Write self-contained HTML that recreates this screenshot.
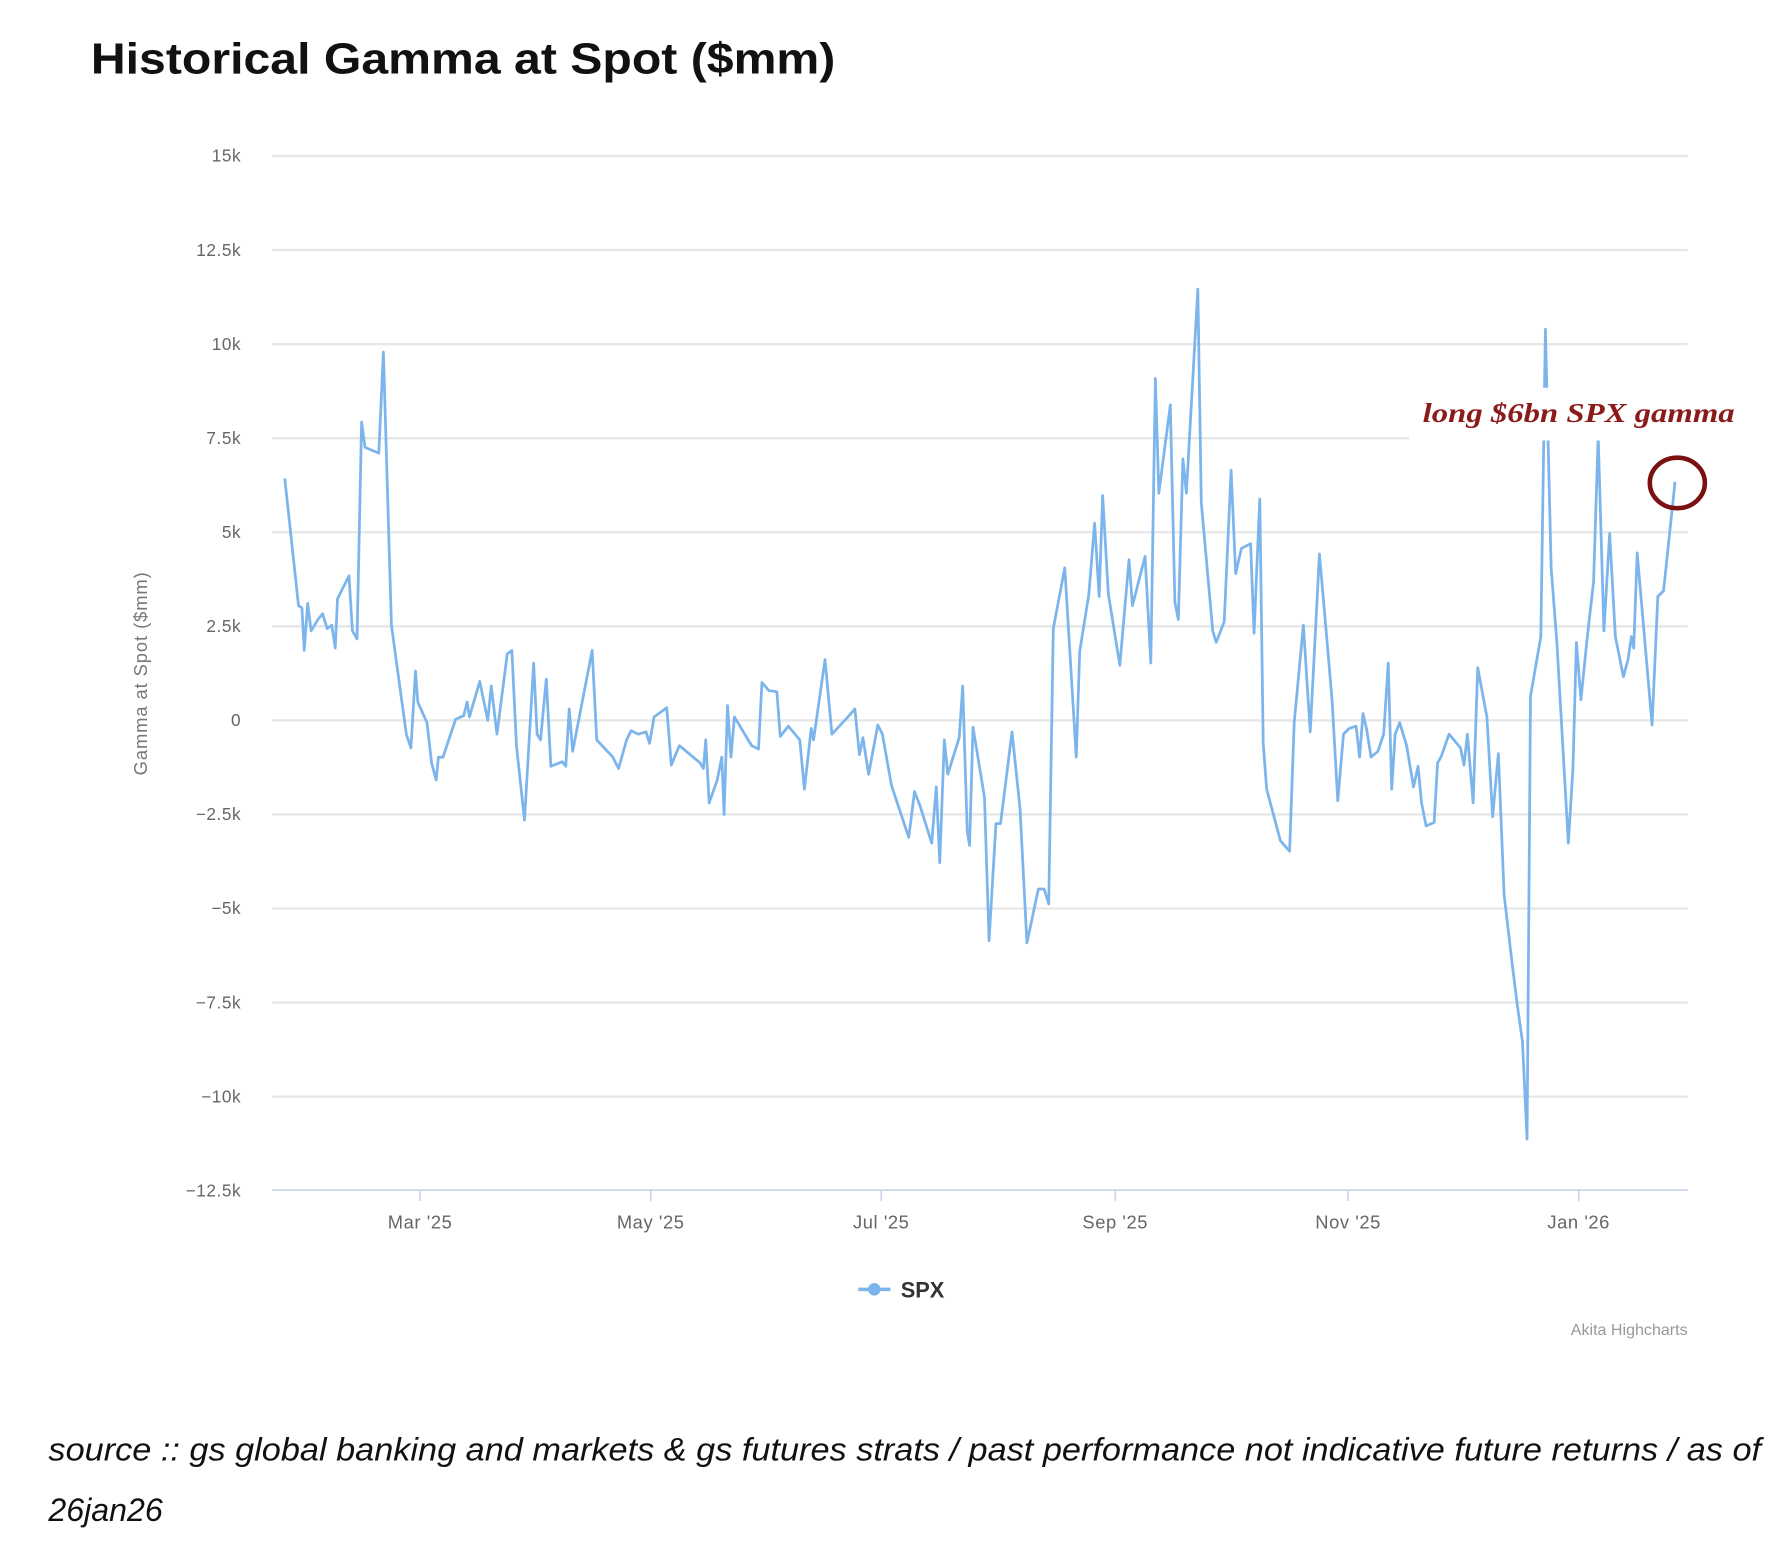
<!DOCTYPE html>
<html><head><meta charset="utf-8"><style>html,body{margin:0;padding:0;background:#fff}svg{display:block}</style></head>
<body>
<svg width="1790" height="1544" viewBox="0 0 1560 1346" xmlns="http://www.w3.org/2000/svg" font-family="Liberation Sans, sans-serif">
<rect width="1560" height="1346" fill="#fff"/>
<text x="79" y="64" font-size="38" font-weight="bold" fill="#111" textLength="649" lengthAdjust="spacingAndGlyphs">Historical Gamma at Spot ($mm)</text>
<g stroke="#e6e6e6" stroke-width="2">
<line x1="237" x2="1471" y1="136" y2="136"/><line x1="237" x2="1471" y1="218" y2="218"/><line x1="237" x2="1471" y1="300" y2="300"/><line x1="237" x2="1471" y1="382" y2="382"/><line x1="237" x2="1471" y1="464" y2="464"/><line x1="237" x2="1471" y1="546" y2="546"/><line x1="237" x2="1471" y1="628" y2="628"/><line x1="237" x2="1471" y1="710" y2="710"/><line x1="237" x2="1471" y1="792" y2="792"/><line x1="237" x2="1471" y1="874" y2="874"/><line x1="237" x2="1471" y1="956" y2="956"/>
</g>
<line x1="237" x2="1471" y1="1037.5" y2="1037.5" stroke="#ccd6eb" stroke-width="1.5"/>
<g stroke="#ccd6eb" stroke-width="1.5"><line x1="366" x2="366" y1="1037" y2="1047"/><line x1="567" x2="567" y1="1037" y2="1047"/><line x1="768" x2="768" y1="1037" y2="1047"/><line x1="972" x2="972" y1="1037" y2="1047"/><line x1="1175" x2="1175" y1="1037" y2="1047"/><line x1="1376" x2="1376" y1="1037" y2="1047"/></g>
<g font-size="15" fill="#666" text-anchor="end" letter-spacing="0.5">
<text x="210" y="141">15k</text><text x="210" y="223">12.5k</text><text x="210" y="305">10k</text><text x="210" y="387">7.5k</text><text x="210" y="469">5k</text><text x="210" y="551">2.5k</text><text x="210" y="633">0</text><text x="210" y="715">−2.5k</text><text x="210" y="797">−5k</text><text x="210" y="879">−7.5k</text><text x="210" y="961">−10k</text><text x="210" y="1043">−12.5k</text>
</g>
<g font-size="16" fill="#666" text-anchor="middle" letter-spacing="0.5">
<text x="366" y="1071">Mar '25</text><text x="567" y="1071">May '25</text><text x="768" y="1071">Jul '25</text><text x="972" y="1071">Sep '25</text><text x="1175" y="1071">Nov '25</text><text x="1376" y="1071">Jan '26</text>
</g>
<text transform="translate(128,587) rotate(-90)" font-size="16" fill="#777" text-anchor="middle" letter-spacing="0.8">Gamma at Spot ($mm)</text>
<polyline fill="none" stroke="#7cb5ec" stroke-width="2.4" stroke-linejoin="round" points="248,417 257,500 260,528 263,530 265,567 268,526 271,550 277,540 281,535 285,548 289,545 292,565 294,522 304,502 307,550 311,557 315,368 318,390 330,395 334,307 341,545 354,640 358,652 362,585 364,612 372,630 376,665 380,680 382,660 386,660 397,627 404,624 407,612 409,625 418,594 425,628 428,598 433,640 442,570 446,567 450,650 457,715 465,578 468,640 471,645 476,592 480,668 490,664 493,668 496,618 499,655 516,567 520,645 534,660 539,670 546,645 550,637 556,640 563,638 566,648 570,625 581,617 585,667 592,650 610,665 613,670 615,645 618,700 625,680 629,660 631,710 634,615 637,660 640,625 655,650 661,653 664,595 670,602 677,603 680,642 687,633 697,645 701,688 707,635 709,645 719,575 725,640 739,625 745,618 749,658 752,643 757,675 765,632 769,640 777,685 792,730 797,690 802,703 812,735 816,686 819,752 823,645 826,675 836,643 839,598 843,725 845,737 848,634 858,695 862,820 868,718 872,718 882,638 889,705 895,822 905,775 910,775 914,788 918,548 928,495 938,660 941,568 949,518 954,456 958,520 961,432 966,518 976,580 984,488 987,528 998,485 1003,578 1007,330 1010,430 1020,353 1024,525 1027,540 1031,400 1034,430 1044,252 1047,438 1057,550 1060,560 1067,542 1073,410 1077,500 1082,478 1090,474 1093,552 1098,435 1101,648 1104,688 1116,733 1124,742 1128,630 1136,545 1142,638 1150,483 1155,540 1161,610 1166,698 1171,640 1176,635 1182,633 1185,660 1188,622 1191,635 1195,660 1201,655 1206,640 1210,578 1213,688 1216,640 1220,630 1226,650 1232,686 1236,668 1239,700 1243,720 1250,717 1253,665 1256,660 1263,640 1273,652 1276,667 1279,640 1284,700 1288,582 1296,625 1301,712 1306,657 1311,780 1318,840 1323,880 1327,908 1331,993 1334,607 1343,555 1347,287 1352,495 1357,560 1367,735 1371,670 1374,560 1378,610 1383,560 1389,507 1393,380 1398,550 1403,465 1408,555 1415,590 1419,575 1422,555 1424,565 1427,482 1440,632 1445,520 1450,515 1460,420"/>
<rect x="1228" y="338" width="292" height="46" fill="#fff"/>
<text x="1240" y="368" font-family="Liberation Serif, serif" font-size="24" font-weight="bold" font-style="italic" fill="#8b1a1a" textLength="272" lengthAdjust="spacingAndGlyphs">long $6bn SPX gamma</text>
<ellipse cx="1462" cy="421" rx="24" ry="22" fill="none" stroke="#7a1010" stroke-width="4"/>
<line x1="748" x2="776" y1="1124" y2="1124" stroke="#7cb5ec" stroke-width="3"/>
<circle cx="762" cy="1124" r="5.5" fill="#7cb5ec"/>
<text x="785" y="1131" font-size="19" font-weight="bold" fill="#333">SPX</text>
<text x="1471" y="1164" font-size="14" fill="#999" text-anchor="end">Akita Highcharts</text>
<text x="42" y="1273" font-size="28" font-style="italic" fill="#111" textLength="1493" lengthAdjust="spacingAndGlyphs">source :: gs global banking and markets &amp; gs futures strats / past performance not indicative future returns / as of</text>
<text x="42" y="1326" font-size="28" font-style="italic" fill="#111">26jan26</text>
</svg>
</body></html>
